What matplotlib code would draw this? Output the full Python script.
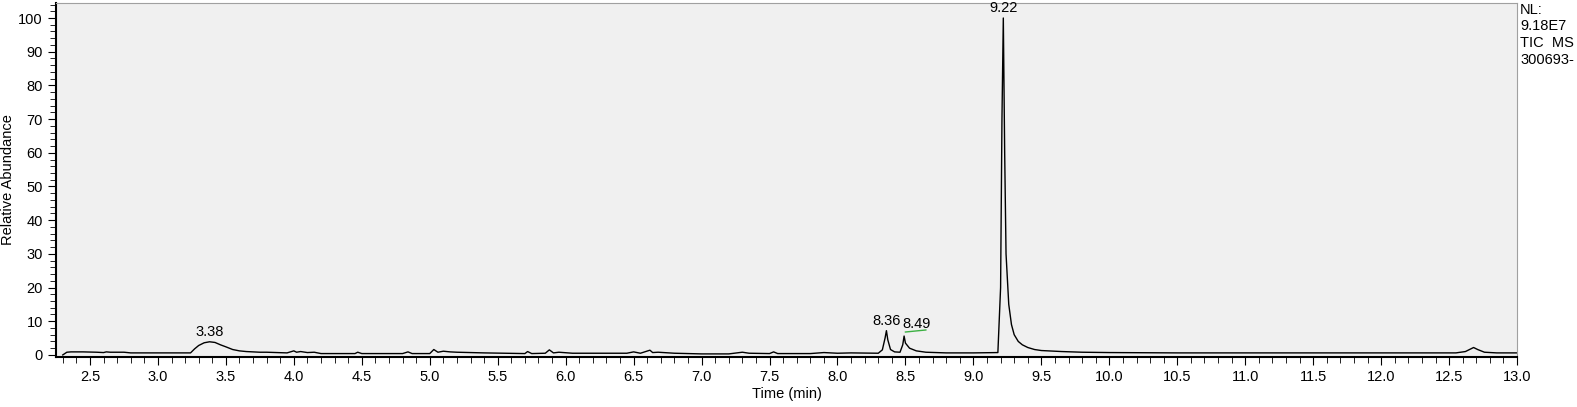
import matplotlib.pyplot as plt
from matplotlib.ticker import MultipleLocator

plt.rcParams['font.family'] = ['Liberation Sans', 'DejaVu Sans']

# chromatogram trace (time in min, relative abundance)
time = [2.30, 2.33, 2.36, 2.45, 2.55, 2.60, 2.62, 2.65, 2.75, 2.80, 2.85, 3.00, 3.15, 3.24,
        3.27, 3.30, 3.34, 3.38, 3.42, 3.46, 3.50, 3.55, 3.60, 3.65, 3.75, 3.80, 3.95, 4.00,
        4.02, 4.05, 4.10, 4.15, 4.20, 4.45, 4.47, 4.50, 4.80, 4.84, 4.87, 5.00, 5.03, 5.06,
        5.10, 5.15, 5.20, 5.40, 5.70, 5.72, 5.75, 5.85, 5.88, 5.91, 5.95, 6.05, 6.45, 6.50,
        6.55, 6.62, 6.64, 6.68, 6.80, 7.00, 7.20, 7.30, 7.35, 7.50, 7.53, 7.56, 7.80, 7.90,
        8.00, 8.10, 8.30, 8.33, 8.35, 8.36, 8.37, 8.39, 8.42, 8.46, 8.48, 8.49, 8.50, 8.53,
        8.58, 8.65, 8.80, 9.00, 9.18, 9.20, 9.21, 9.22, 9.23, 9.24, 9.26, 9.28, 9.30, 9.33,
        9.36, 9.40, 9.45, 9.50, 9.60, 9.65, 9.80, 10.0, 10.5, 11.0, 11.5, 12.0, 12.55, 12.62,
        12.66, 12.68, 12.71, 12.76, 12.85, 13.0]
abundance = [0.0, 0.8, 0.9, 0.9, 0.8, 0.7, 0.9, 0.8, 0.8, 0.6, 0.6, 0.6, 0.6, 0.6,
             1.8, 2.8, 3.6, 3.9, 3.7, 3.0, 2.4, 1.6, 1.2, 1.0, 0.8, 0.8, 0.6, 1.2,
             0.8, 1.0, 0.7, 0.8, 0.4, 0.4, 0.8, 0.4, 0.4, 0.9, 0.4, 0.4, 1.6, 0.8,
             1.1, 0.9, 0.8, 0.6, 0.4, 1.0, 0.4, 0.5, 1.5, 0.6, 0.8, 0.5, 0.5, 0.9,
             0.5, 1.4, 0.7, 0.8, 0.5, 0.3, 0.3, 0.8, 0.5, 0.4, 0.9, 0.4, 0.4, 0.7,
             0.5, 0.6, 0.5, 1.5, 5.0, 7.2, 4.5, 1.6, 0.9, 0.8, 3.0, 5.6, 3.5, 2.0,
             1.2, 0.8, 0.6, 0.6, 0.7, 20.0, 70.0, 100.0, 60.0, 30.0, 15.0, 9.0, 6.0, 4.0,
             3.0, 2.2, 1.6, 1.3, 1.1, 1.0, 0.8, 0.7, 0.6, 0.6, 0.6, 0.6, 0.6, 1.0,
             1.8, 2.2, 1.6, 0.8, 0.6, 0.6]

peak_times = [3.38, 8.36, 8.49, 9.22]
peak_heights = [3.9, 7.2, 5.6, 100.0]
peak_labels = ['3.38', '8.36', '8.49', '9.22']

x_ticks = [2.5, 3.0, 3.5, 4.0, 4.5, 5.0, 5.5, 6.0, 6.5, 7.0, 7.5, 8.0, 8.5, 9.0,
           9.5, 10.0, 10.5, 11.0, 11.5, 12.0, 12.5, 13.0]
y_ticks = [0, 10, 20, 30, 40, 50, 60, 70, 80, 90, 100]
info_lines = ['NL:', '9.18E7', 'TIC  MS', '300693-']

fig = plt.figure(figsize=(15.77, 4.07), dpi=100)
ax = fig.add_axes([0.0355, 0.123, 0.9265, 0.870])
ax.set_facecolor('#f0f0f0')

ax.plot(time, abundance, color='black', linewidth=1.0)

for t, h, lab in zip(peak_times, peak_heights, peak_labels):
    if lab == '8.49':
        ax.text(t + 0.09, h + 1.4, lab, ha='center', va='bottom', fontsize=10.5)
    else:
        ax.text(t, h + 0.8, lab, ha='center', va='bottom', fontsize=10.5)
# the little green marker line under 8.49
ax.plot([8.50, 8.65], [6.8, 7.4], color='#3cb043', linewidth=1.0)

ax.set_xlim(2.25, 13.0)
ax.set_ylim(-0.6, 104.5)
ax.set_xticks(x_ticks)
ax.set_xticklabels([f'{v:.1f}' for v in x_ticks])
ax.set_yticks(y_ticks)
ax.xaxis.set_minor_locator(MultipleLocator(0.1))
ax.yaxis.set_minor_locator(MultipleLocator(2))
ax.tick_params(which='major', length=6, labelsize=10.5, color='black')
ax.tick_params(which='minor', length=4, color='black')

for side in ['top', 'right']:
    ax.spines[side].set_color('#a0a0a0')
ax.spines['left'].set_linewidth(1.5)
ax.spines['bottom'].set_linewidth(1.5)

ax.set_xlabel('Time (min)', fontsize=10.5, labelpad=2)
ax.set_ylabel('Relative Abundance', fontsize=10.5, labelpad=2)

for i, line in enumerate(info_lines):
    fig.text(1520 / 1577, 1 - (3 + 16.5 * i) / 407, line, ha='left', va='top', fontsize=10.5)

fig.savefig('out.png', dpi=100)
